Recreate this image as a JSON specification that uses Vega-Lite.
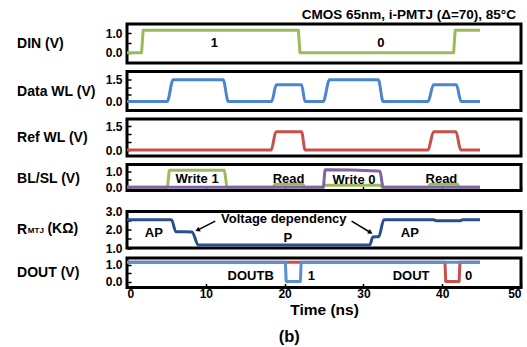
{
  "$schema": "https://vega.github.io/schema/vega-lite/v6.json",
  "padding": {"left": 15, "top": 6, "right": 5, "bottom": 4},
  "background": "white",
  "config": {
    "font": "Liberation Sans",
    "view": {"stroke": "black", "strokeWidth": 3},
    "axis": {"domain": false, "grid": false, "tickColor": "black", "tickWidth": 1.5, "tickSize": -4,
      "labelFont": "Liberation Sans", "labelFontSize": 12, "labelFontWeight": "bold", "labelColor": "black",
      "titleFont": "Liberation Sans", "titleFontSize": 14, "titleFontWeight": "bold", "titleColor": "black"},
    "axisY": {"labelPadding": 9, "titleAngle": 0, "titleAlign": "left", "titleBaseline": "middle", "titleX": -110.4},
    "text": {"font": "Liberation Sans", "fontWeight": "bold", "fontSize": 13, "color": "black", "baseline": "middle", "align": "center"},
    "line": {"strokeWidth": 3, "strokeJoin": "round"},
    "title": {"font": "Liberation Sans", "fontWeight": "bold", "color": "black"}
  },
  "datasets": {
    "din": [{"t":0,"v":0},{"t":1.85,"v":0},{"t":2.05,"v":1.17},{"t":21.75,"v":1.17},{"t":21.95,"v":0},{"t":41.45,"v":0},{"t":41.65,"v":1.17},{"t":44.8,"v":1.17}],
    "din_lbl": [{"t":11.1,"v":0.53,"label":"1"},{"t":32.2,"v":0.53,"label":"0"}],
    "dwl": [{"t":0,"v":0},{"t":5.1,"v":0},{"t":5.85,"v":1.5},{"t":12.2,"v":1.5},{"t":12.85,"v":0},{"t":18.35,"v":0},{"t":18.95,"v":1.15},{"t":22.15,"v":1.15},{"t":22.6,"v":0},{"t":24.9,"v":0},{"t":25.7,"v":1.5},{"t":31.9,"v":1.5},{"t":32.5,"v":0},{"t":38.2,"v":0},{"t":38.9,"v":1.15},{"t":41.8,"v":1.15},{"t":42.4,"v":0},{"t":44.8,"v":0}],
    "rwl": [{"t":0,"v":0},{"t":18.3,"v":0},{"t":18.9,"v":1.14},{"t":22.15,"v":1.14},{"t":22.6,"v":0},{"t":38.2,"v":0},{"t":38.9,"v":1.14},{"t":41.75,"v":1.14},{"t":42.35,"v":0},{"t":44.8,"v":0}],
    "bl": [{"t":0,"v":0},{"t":5.1,"v":0},{"t":5.4,"v":1.08},{"t":12.35,"v":1.08},{"t":12.7,"v":0},{"t":18.5,"v":0},{"t":18.8,"v":0.19},{"t":22.3,"v":0.19},{"t":22.6,"v":0},{"t":24.9,"v":0},{"t":25.1,"v":0.13},{"t":32.1,"v":0.13},{"t":32.4,"v":0},{"t":38.2,"v":0},{"t":38.5,"v":0.19},{"t":41.9,"v":0.19},{"t":42.2,"v":0},{"t":44.8,"v":0}],
    "sl": [{"t":0,"v":0},{"t":24.9,"v":0},{"t":25.15,"v":1.12},{"t":31.8,"v":1.04},{"t":32.1,"v":1.02},{"t":32.5,"v":0},{"t":44.8,"v":0}],
    "bl_lbl": [{"t":8.9,"v":0.54,"label":"Write 1"},{"t":20.5,"v":0.54,"label":"Read"},{"t":28.8,"v":0.48,"label":"Write 0"},{"t":39.9,"v":0.54,"label":"Read"}],
    "rmtj": [{"t":0,"v":2.55},{"t":5.65,"v":2.55},{"t":6.2,"v":1.89},{"t":8.25,"v":1.88},{"t":9.05,"v":1.16},{"t":30.8,"v":1.16},{"t":31.2,"v":1.6},{"t":31.95,"v":1.62},{"t":32.6,"v":2.55},{"t":38.9,"v":2.55},{"t":39.2,"v":2.5},{"t":42.3,"v":2.5},{"t":42.6,"v":2.55},{"t":44.8,"v":2.55}],
    "rmtj_lbl": [{"t":3.4,"v":1.84,"label":"AP"},{"t":20.4,"v":1.56,"label":"P"},{"t":35.9,"v":1.84,"label":"AP"},{"t":19.9,"v":2.57,"label":"Voltage dependency"}],
    "rmtj_ttl": [{"t":-12.58,"v":1.805,"label":"MTJ","part":"sub"},{"t":-10.1,"v":1.805,"label":"(KΩ)","part":"main"}],
    "arrows": [{"t":11.2,"v":2.47,"t2":8.95,"v2":1.98,"side":"L"},{"t":28.5,"v":2.47,"t2":30.9,"v2":1.85,"side":"R"}],
    "doutb": [{"t":0,"v":1.15},{"t":20.1,"v":1.15},{"t":20.2,"v":0},{"t":22.0,"v":0},{"t":22.1,"v":1.15},{"t":44.8,"v":1.15}],
    "dout": [{"t":0,"v":1.15},{"t":40.35,"v":1.15},{"t":40.45,"v":0},{"t":42.15,"v":0},{"t":42.25,"v":1.15},{"t":44.8,"v":1.15}],
    "dout_lbl": [{"t":15.7,"v":0.36,"label":"DOUTB"},{"t":23.4,"v":0.36,"label":"1"},{"t":36.05,"v":0.36,"label":"DOUT"},{"t":43.35,"v":0.36,"label":"0"}]
  },
  "title": {"text": "(b)", "orient": "bottom", "anchor": "middle", "fontSize": 16.5, "dx": 20, "offset": 9},
  "bounds": "full",
  "spacing": 8.5,
  "vconcat": [
    {
      "bounds": "flush",
      "spacing": 8.5,
      "vconcat": [
        {
          "width": 394, "height": 39,
          "title": {"text": "CMOS 65nm, i-PMTJ (Δ=70), 85°C", "anchor": "end", "fontSize": 13.5, "offset": 3, "dx": -5},
          "encoding": {
            "x": {"field": "t", "type": "quantitative", "scale": {"domain": [0, 50], "nice": false}, "axis": null},
            "y": {"field": "v", "type": "quantitative", "scale": {"domain": [-0.53, 1.49], "nice": false, "zero": false},
              "axis": {"title": "DIN (V)", "titleY": 19.5, "values": [0, 0.5, 1], "labelExpr": "datum.value == 0.5 ? '' : format(datum.value, '.1f')"}}
          },
          "layer": [
            {"data": {"name": "din"}, "mark": {"type": "line", "color": "#9bbb59"}},
            {"data": {"name": "din_lbl"}, "mark": {"type": "text"}, "encoding": {"text": {"field": "label"}}}
          ]
        },
        {
          "width": 394, "height": 39,
          "encoding": {
            "x": {"field": "t", "type": "quantitative", "scale": {"domain": [0, 50], "nice": false}, "axis": null},
            "y": {"field": "v", "type": "quantitative", "scale": {"domain": [-0.62, 2.07], "nice": false, "zero": false},
              "axis": {"title": "Data WL (V)", "titleY": 19.5, "values": [0, 0.5, 1, 1.5], "labelExpr": "datum.value == 0 || datum.value == 1.5 ? format(datum.value, '.1f') : ''"}}
          },
          "layer": [
            {"data": {"name": "dwl"}, "mark": {"type": "line", "color": "#4a86cf", "interpolate": "monotone"}}
          ]
        },
        {
          "width": 394, "height": 37,
          "encoding": {
            "x": {"field": "t", "type": "quantitative", "scale": {"domain": [0, 50], "nice": false}, "axis": null},
            "y": {"field": "v", "type": "quantitative", "scale": {"domain": [-0.375, 1.94], "nice": false, "zero": false},
              "axis": {"title": "Ref WL (V)", "titleY": 18.5, "values": [0, 0.5, 1, 1.5], "labelExpr": "datum.value == 0 || datum.value == 1.5 ? format(datum.value, '.1f') : ''"}}
          },
          "layer": [
            {"data": {"name": "rwl"}, "mark": {"type": "line", "color": "#c8504a", "interpolate": "monotone"}}
          ]
        },
        {
          "width": 394, "height": 26,
          "encoding": {
            "x": {"field": "t", "type": "quantitative", "scale": {"domain": [0, 50], "nice": false},
              "axis": {"values": [0, 10, 20, 30, 40, 50], "labels": false, "title": null}},
            "y": {"field": "v", "type": "quantitative", "scale": {"domain": [-0.2, 1.45], "nice": false, "zero": false},
              "axis": {"title": "BL/SL (V)", "titleY": 14, "values": [0, 0.5, 1], "labelExpr": "datum.value == 0.5 ? '' : format(datum.value, '.1f')"}}
          },
          "layer": [
            {"data": {"name": "bl"}, "mark": {"type": "line", "color": "#9bbb59", "interpolate": "monotone"}},
            {"data": {"name": "sl"}, "mark": {"type": "line", "color": "#8064a2", "interpolate": "monotone"}},
            {"data": {"name": "bl_lbl"}, "mark": {"type": "text"}, "encoding": {"text": {"field": "label"}}}
          ]
        }
      ]
    },
    {
      "bounds": "flush",
      "spacing": 9.5,
      "vconcat": [
        {
          "width": 394, "height": 36.5,
          "encoding": {
            "x": {"field": "t", "type": "quantitative", "scale": {"domain": [0, 50], "nice": false}, "axis": null},
            "y": {"field": "v", "type": "quantitative", "scale": {"domain": [1, 3], "nice": false, "zero": false},
              "axis": {"title": "R", "titleY": 21.8, "titleBaseline": "alphabetic", "values": [1, 1.5, 2, 2.5, 3], "labelExpr": "datum.value % 1 == 0 ? format(datum.value, '.1f') : ''"}}
          },
          "layer": [
            {"data": {"name": "rmtj"}, "mark": {"type": "line", "color": "#28508e", "interpolate": "monotone"}},
            {"data": {"name": "rmtj_lbl"}, "mark": {"type": "text"}, "encoding": {"text": {"field": "label"}}},
            {"data": {"name": "arrows"}, "mark": {"type": "rule", "color": "black", "strokeWidth": 1.5}, "encoding": {"x2": {"field": "t2"}, "y2": {"field": "v2"}}},
            {"data": {"name": "arrows"}, "transform": [{"filter": "datum.side == 'L'"}], "mark": {"type": "point", "shape": "triangle-up", "filled": true, "color": "black", "size": 28, "angle": 244, "opacity": 1}, "encoding": {"x": {"field": "t2", "type": "quantitative"}, "y": {"field": "v2", "type": "quantitative"}}},
            {"data": {"name": "arrows"}, "transform": [{"filter": "datum.side == 'R'"}], "mark": {"type": "point", "shape": "triangle-up", "filled": true, "color": "black", "size": 28, "angle": 121, "opacity": 1}, "encoding": {"x": {"field": "t2", "type": "quantitative"}, "y": {"field": "v2", "type": "quantitative"}}},
            {"data": {"name": "rmtj_ttl"}, "transform": [{"filter": "datum.part == 'sub'"}], "mark": {"type": "text", "fontSize": 8, "align": "left", "baseline": "alphabetic"}, "encoding": {"text": {"field": "label"}}},
            {"data": {"name": "rmtj_ttl"}, "transform": [{"filter": "datum.part == 'main'"}], "mark": {"type": "text", "fontSize": 14, "align": "left", "baseline": "alphabetic"}, "encoding": {"text": {"field": "label"}}}
          ]
        },
        {
          "width": 394, "height": 29.5,
          "encoding": {
            "x": {"field": "t", "type": "quantitative", "scale": {"domain": [0, 50], "nice": false},
              "axis": {"values": [0, 10, 20, 30, 40, 50], "format": "d", "labelPadding": 5, "title": "Time (ns)", "titleFontSize": 15.5, "titlePadding": 3}},
            "y": {"field": "v", "type": "quantitative", "scale": {"domain": [-0.36, 1.41], "nice": false, "zero": false},
              "axis": {"title": "DOUT (V)", "titleY": 14.5, "values": [0, 0.5, 1], "labelExpr": "datum.value == 0.5 ? '' : format(datum.value, '.1f')"}}
          },
          "layer": [
            {"data": {"name": "dout"}, "mark": {"type": "line", "color": "#c8504a"}},
            {"data": {"name": "doutb"}, "mark": {"type": "line", "color": "#5b8fd2"}},
            {"data": {"name": "dout_lbl"}, "mark": {"type": "text"}, "encoding": {"text": {"field": "label"}}}
          ]
        }
      ]
    }
  ]
}
